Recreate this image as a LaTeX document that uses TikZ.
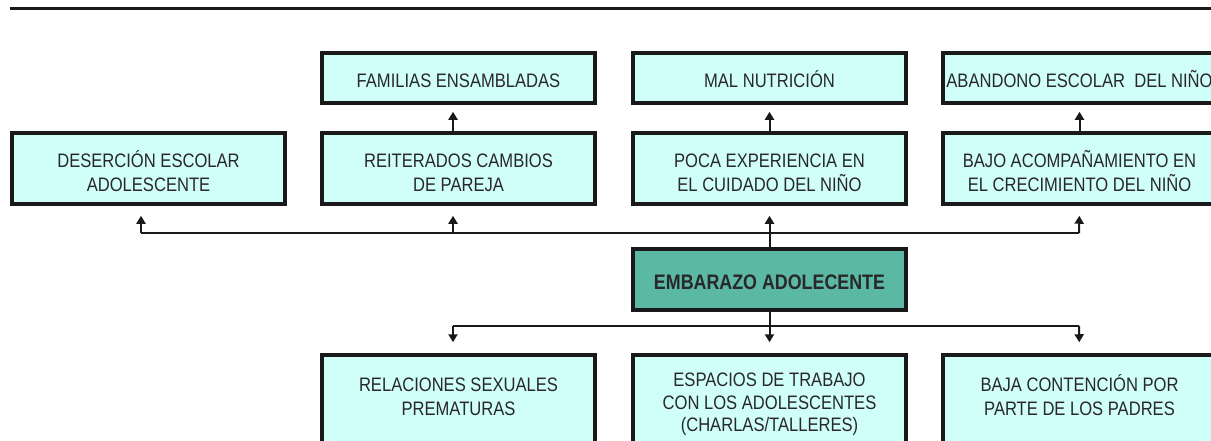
\documentclass[tikz,border=0pt]{standalone}
\usepackage{fontspec}
\setmainfont{Liberation Sans}[FakeStretch=0.85]
\usetikzlibrary{arrows.meta}
\definecolor{boxfill}{RGB}{208,255,250}
\definecolor{mainfill}{RGB}{91,184,165}
\definecolor{ink}{RGB}{40,40,40}
\tikzstyle{box}=[draw=black!90,line width=3.5pt,fill=boxfill,text=ink,minimum width=273pt,align=center,inner sep=0pt,font=\fontsize{19.5}{24.3}\selectfont]
\tikzstyle{low}=[box,minimum height=50pt,execute at begin node={\rule{0pt}{23.8pt}},execute at end node={\rule[-5pt]{0pt}{5pt}}]
\tikzstyle{high}=[box,minimum height=71pt,execute at begin node={\rule{0pt}{51.7pt}},execute at end node={\rule[-5pt]{0pt}{5pt}}]
\tikzstyle{cause}=[box,minimum height=100pt,execute at begin node={\rule{0pt}{42.7pt}},execute at end node={\rule[-22pt]{0pt}{22pt}}]
\tikzstyle{link}=[line width=2pt,black!90]
\tikzstyle{arr}=[link,-{Triangle[length=8pt,width=9pt]}]

\begin{document}
\begin{tikzpicture}[x=1pt,y=-1pt]
        \useasboundingbox (0,0) rectangle (1211,440);
        \draw[line width=3.5pt,black!90] (10,8.5) -- (1215,8.5);
        % effects
        \node[low] (familias) at (458.5,78) {FAMILIAS ENSAMBLADAS};
        \node[low] (nutricion) at (769.5,78) {MAL NUTRICIÓN};
        \node[low] (abandono) at (1079.5,78) {ABANDONO ESCOLAR\ \ DEL NIÑO};
        \node[high] (desercion) at (148.5,168.5) {DESERCIÓN ESCOLAR\\ADOLESCENTE};
        \node[high] (cambios) at (458.5,168.5) {REITERADOS CAMBIOS\\DE PAREJA};
        \node[high] (cuidado) at (769.5,168.5) {POCA EXPERIENCIA EN\\EL CUIDADO DEL NIÑO};
        \node[high] (crecimiento) at (1079.5,168.5) {BAJO ACOMPAÑAMIENTO EN\\EL CRECIMIENTO DEL NIÑO};
        % problem
        \node[box,fill=mainfill,minimum height=61pt,font=\fontsize{21}{24}\selectfont\bfseries,
              execute at begin node={\rule{0pt}{25.5pt}},execute at end node={\rule[-5pt]{0pt}{5pt}}] (embarazo) at (769.5,279.5) {EMBARAZO ADOLECENTE};
        % causes
        \node[cause] (relaciones) at (458.5,405) {RELACIONES SEXUALES\\PREMATURAS};
        \node[box,minimum height=100pt,font=\fontsize{19.5}{22.5}\selectfont,
              execute at begin node={\rule{0pt}{59.4pt}},execute at end node={\rule[-6pt]{0pt}{6pt}}] (espacios) at (769.5,405) {ESPACIOS DE TRABAJO\\CON LOS ADOLESCENTES\\(CHARLAS/TALLERES)};
        \node[cause] (contencion) at (1079.5,405) {BAJA CONTENCIÓN POR\\PARTE DE LOS PADRES};
        \coordinate (upleft) at (141,233);
        \coordinate (upright) at (1079,233);
        \coordinate (downleft) at (453,326);
        \coordinate (downright) at (1079,326);
        \draw[link] (upleft) -- (upright);
        \draw[link] (downleft) -- (downright);
        \draw[arr,shorten >=10pt] (embarazo) -- (cuidado);
        \draw[arr,shorten >=10pt] (upleft) -- ([xshift=-7.5pt]desercion.south);
        \draw[arr,shorten >=10pt] ([xshift=-5.5pt]cambios.south |- upleft) -- ([xshift=-5.5pt]cambios.south);
        \draw[arr,shorten >=10pt] (upright) -- (crecimiento.south);
        \draw[arr,shorten >=7pt] ([xshift=-5.5pt]cambios.north) -- ([xshift=-5.5pt]familias.south);
        \draw[arr,shorten >=7pt] (cuidado) -- (nutricion);
        \draw[arr,shorten >=7pt] (crecimiento) -- (abandono);
        \draw[arr,shorten >=11pt] (embarazo) -- (espacios);
        \draw[arr,shorten >=11pt] (downleft) -- ([xshift=-5.5pt]relaciones.north);
        \draw[arr,shorten >=11pt] (downright) -- (contencion.north);
\end{tikzpicture}
\end{document}
